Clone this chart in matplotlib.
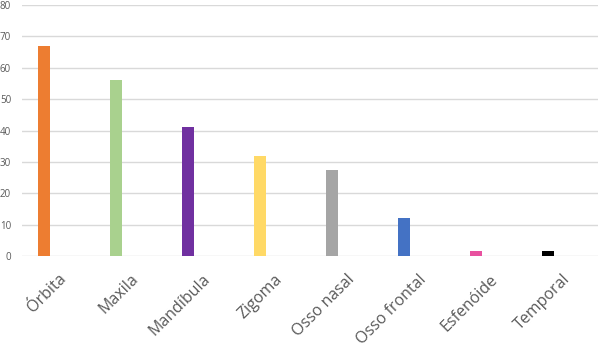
import matplotlib
matplotlib.use("Agg")
import matplotlib.pyplot as plt

categories = ["Órbita", "Maxila", "Mandíbula", "Zigoma", "Osso nasal",
              "Osso frontal", "Esfenóide", "Temporal"]
values = [67, 56, 41, 32, 27.5, 12, 1.5, 1.5]
colors = ["#ED7D31", "#A9D18E", "#7030A0", "#FFD966", "#A5A5A5",
          "#4472C4", "#E8519F", "#000000"]
yticks = [0, 10, 20, 30, 40, 50, 60, 70, 80]

plt.rcParams["font.family"] = ["Open Sans", "DejaVu Sans"]

fig = plt.figure(figsize=(6, 3.46), dpi=100)
ax = fig.add_axes([0.037, 0.26, 0.96, 0.7255])

pos = [i - 0.2 for i in range(len(categories))]
ax.bar(pos, values, width=0.17, color=colors, zorder=3)

ax.set_ylim(0, 80)
ax.set_xlim(-0.5, len(categories) - 0.5)
ax.set_yticks(yticks)
ax.set_yticklabels([str(v) for v in yticks], fontsize=7, color="#595959")
ax.set_xticks(range(len(categories)))
ax.set_xticklabels(categories, rotation=45, ha="right", rotation_mode="anchor",
                   fontsize=11.5, color="#595959")
ax.tick_params(axis="both", length=0)
ax.tick_params(axis="x", pad=11)
ax.tick_params(axis="y", pad=8)
ax.grid(axis="y", color="#D9D9D9", linewidth=1, zorder=0)
for s in ax.spines.values():
    s.set_visible(False)

fig.savefig("out.png", dpi=100)
